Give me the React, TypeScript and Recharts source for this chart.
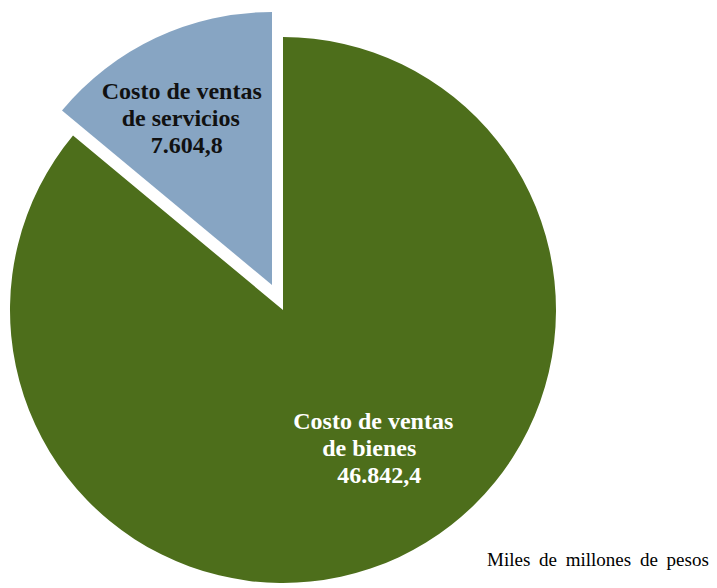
import React from 'react';
import { PieChart, Pie, Cell } from 'recharts';

// Costo de ventas, miles de millones de pesos
const categories = ['Costo de ventas de servicios', 'Costo de ventas de bienes'];
const labelLines = [
  ['Costo de ventas', 'de servicios', '7.604,8'],
  ['Costo de ventas', 'de bienes', '46.842,4'],
];
const values = [7604.8, 46842.4];
const colors = ['#87A5C3', '#4D6E1B'];
const unitNote = 'Miles de millones de pesos';

const data = categories.map((name, i) => ({ name, value: values[i] }));

const RAD = Math.PI / 180;

// per-label tweaks: fraction of the radius, offsets of the block, line offsets
const labelStyle = [
  { k: 0.64, dx: -14, dy: -9, fill: '#111111', lineDx: [-2, -3, 3] },
  { k: 0.58, dx: 22, dy: -5, fill: '#ffffff', lineDx: [1, -3, 7] },
];

const makeLabel = (show: number) => (props: any) => {
  const { cx, cy, midAngle, outerRadius, index } = props;
  if (index !== show) return null;
  const s = labelStyle[index];
  const r = outerRadius * s.k;
  const x = cx + r * Math.cos(-midAngle * RAD) + s.dx;
  const y = cy + r * Math.sin(-midAngle * RAD) + s.dy;
  const lines = labelLines[index];
  return (
    <text
      x={x}
      y={y}
      textAnchor="middle"
      fill={s.fill}
      fontFamily="'Liberation Serif', 'Times New Roman', serif"
      fontWeight="bold"
      fontSize={24}
    >
      {lines.map((t, i) => (
        <tspan key={i} x={x + s.lineDx[i]} y={y + (i - 1) * 27 + 8}>
          {t}
        </tspan>
      ))}
    </text>
  );
};

export default function App() {
  return (
    <div style={{ position: 'absolute', left: 0, top: 0, width: 717, height: 588, background: '#fff' }}>
      <PieChart width={717} height={588} margin={{ top: 0, right: 0, bottom: 0, left: 0 }}>
        {/* bienes slice, in place */}
        <Pie
          data={data}
          dataKey="value"
          nameKey="name"
          cx={283}
          cy={310}
          outerRadius={273}
          startAngle={90}
          endAngle={450}
          stroke="none"
          labelLine={false}
          label={makeLabel(1)}
          isAnimationActive={false}
        >
          {data.map((d, i) => (
            <Cell key={d.name} fill={i === 1 ? colors[1] : 'none'} />
          ))}
        </Pie>
        {/* servicios slice, pulled out */}
        <Pie
          data={data}
          dataKey="value"
          nameKey="name"
          cx={272}
          cy={285}
          outerRadius={273}
          startAngle={90}
          endAngle={450}
          stroke="none"
          labelLine={false}
          label={makeLabel(0)}
          isAnimationActive={false}
        >
          {data.map((d, i) => (
            <Cell key={d.name} fill={i === 0 ? colors[0] : 'none'} />
          ))}
        </Pie>
      </PieChart>
      <div
        style={{
          position: 'absolute',
          left: 487,
          top: 549,
          width: 228,
          fontFamily: "'Liberation Serif', 'Times New Roman', serif",
          fontSize: 19,
          color: '#000',
          whiteSpace: 'nowrap',
          wordSpacing: 4,
        }}
      >
        {unitNote}
      </div>
    </div>
  );
}
